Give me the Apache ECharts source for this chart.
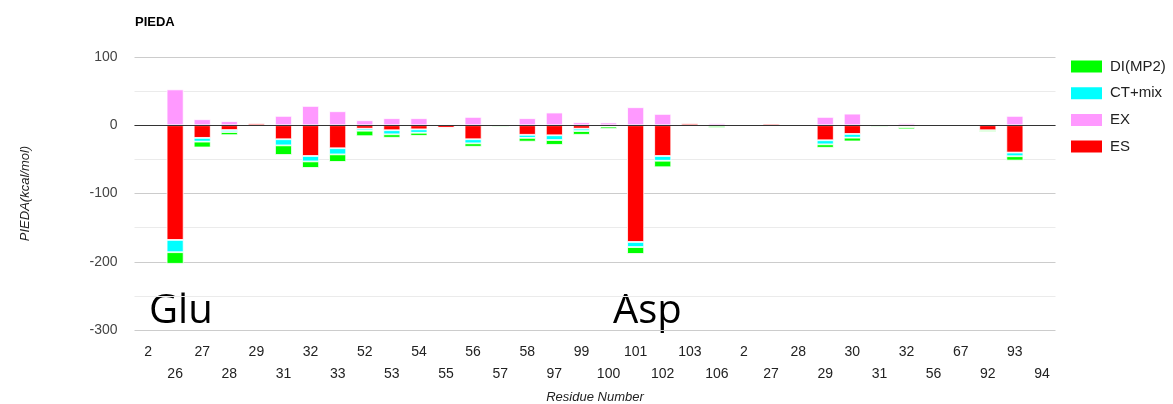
<!DOCTYPE html>
<html>
<head>
<meta charset="utf-8">
<title>PIEDA</title>
<script src="https://cdn.jsdelivr.net/npm/echarts@6/dist/echarts.min.js"></script>
<style>
  html, body { margin: 0; padding: 0; background: #fff; }
  #chart { width: 1173px; height: 404px; }
</style>
</head>
<body>
<div id="chart"></div>
<script>
// Residue labels along the x axis (two fragments, numbered independently)
const residues = ['2','26','27','28','29','31','32','33','52','53','54','55','56','57','58','97','99',
  '100','101','102','103','106','2','27','28','29','30','31','32','56','67','92','93','94'];

// PIEDA energy components per residue, kcal/mol
const esValues = [-0.4,-168,-18.5,-7,3.5,-20.5,-45,-33.7,-5,-7.3,-6,-4,-20.5,-0.5,-14,-14.7,-5,
  -1,-171,-45,3.5,-0.5,-0.3,2.5,-0.3,-22,-12.7,-0.5,-2,-0.3,-0.3,-7.3,-40,1];
const exValues = [0.3,52.5,8.8,6,0,13.7,28.3,20.5,7.3,10.3,10.3,0,12.2,0,10.3,18.6,4.4,
  4,26.4,16.6,0,3,0.3,0,0.3,12.2,17,0,3,0.3,0.3,0.5,13.7,0];
const ctValues = [-0.2,-18,-5.5,-3,0,-9,-8,-9,-3,-6,-5,1,-6,0,-4.5,-7,-3.5,
  -1,-7.5,-7,0,-0.5,0,0,0,-6,-5.5,0,-1,0,0,0,-5.4,0];
const diValues = [-0.5,-17,-8.5,-4.5,-0.3,-14,-9.5,-11,-8,-5,-4.5,-1.5,-5,-2,-5.5,-7,-5.5,
  -3.5,-10,-9.5,-0.3,-3,-0.3,0,-0.3,-5,-5.5,-2,-3,-0.3,-0.3,-2.5,-6.3,-0.3];

// Y axis range and ticks
const yTicks = { min: -300, max: 100, interval: 100 };

const colors = { DI: '#00ff00', CT: '#00ffff', EX: '#ff99ff', ES: '#ff0000' };

function barSeries(name, data, color, extra) {
  return Object.assign({
    name: name,
    type: 'bar',
    stack: 'pieda',
    data: data,
    barWidth: 17,
    itemStyle: { color: color, borderColor: '#ffffff', borderWidth: 0.8 },
    emphasis: { disabled: true }
  }, extra || {});
}

const chart = echarts.init(document.getElementById('chart'), null, { renderer: 'canvas' });

chart.setOption({
  animation: false,
  textStyle: { fontFamily: '"Liberation Sans", Arial, sans-serif' },
  title: {
    text: 'PIEDA',
    left: 130, top: 11,
    textStyle: { fontSize: 13, fontWeight: 'bold', color: '#000' }
  },
  legend: {
    orient: 'vertical',
    left: 1064, top: 53.5,
    itemWidth: 33, itemHeight: 14, itemGap: 10.7,
    icon: 'rect',
    data: ['DI(MP2)', 'CT+mix', 'EX', 'ES'],
    textStyle: { fontSize: 15, color: '#222', padding: [0, 0, 0, 2] }
  },
  grid: { left: 134.5, right: 117.5, top: 57, bottom: 74, containLabel: false, outerBoundsMode: 'none' },
  xAxis: {
    type: 'category',
    data: residues,
    name: 'Residue Number',
    nameLocation: 'middle',
    nameGap: 61,
    nameTextStyle: { fontSize: 13, fontStyle: 'italic', color: '#222' },
    axisLine: { show: false },
    axisTick: { show: false },
    axisLabel: {
      interval: 0,
      fontSize: 14,
      color: '#222',
      margin: 11,
      lineHeight: 22,
      formatter: function (value, index) { return index % 2 === 1 ? '\n' + value : value; }
    }
  },
  yAxis: {
    type: 'value',
    min: yTicks.min, max: yTicks.max, interval: yTicks.interval,
    name: 'PIEDA(kcal/mol)',
    nameLocation: 'middle',
    nameGap: 103,
    nameTextStyle: { fontSize: 13, fontStyle: 'italic', color: '#222' },
    axisLine: { show: false },
    axisTick: { show: false },
    axisLabel: { fontSize: 14, color: '#444', margin: 17 },
    splitLine: { lineStyle: { color: '#cccccc', width: 1 } },
    minorTick: { show: false, splitNumber: 2 },
    minorSplitLine: { show: true, lineStyle: { color: '#ebebeb', width: 1 } }
  },
  series: [
    barSeries('ES', esValues, colors.ES),
    barSeries('EX', exValues, colors.EX),
    barSeries('CT+mix', ctValues, colors.CT),
    barSeries('DI(MP2)', diValues, colors.DI, {
      markLine: {
        silent: true,
        symbol: 'none',
        label: { show: false },
        lineStyle: { color: '#333', width: 1.2, type: 'solid' },
        data: [{ yAxis: 0 }]
      }
    })
  ],
  graphic: [
    {
      type: 'text', left: 149, top: 292,
      style: { text: 'Glu', font: '40px "Open Sans", "Noto Sans", sans-serif', fill: '#000' }
    },
    {
      type: 'text', left: 613, top: 292,
      style: { text: 'Asp', font: '40px "Open Sans", "Noto Sans", sans-serif', fill: '#000' }
    }
  ]
});
</script>
</body>
</html>
